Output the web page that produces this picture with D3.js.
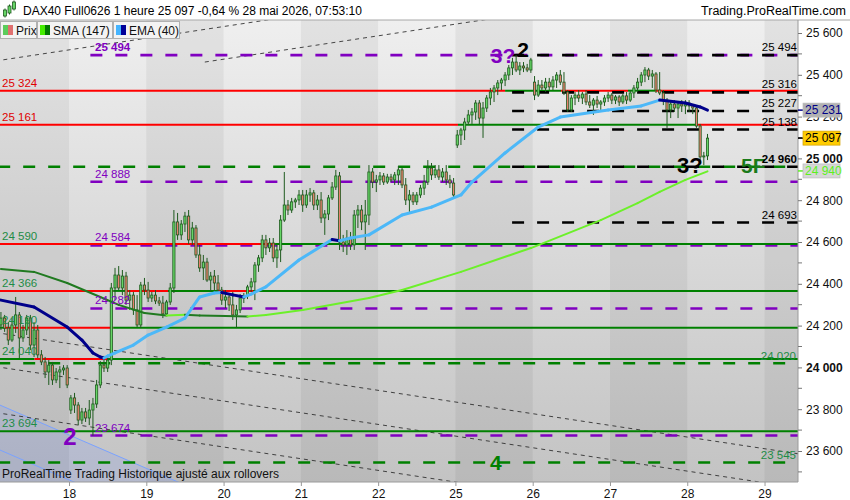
<!DOCTYPE html>
<html><head><meta charset="utf-8">
<script src="https://cdn.jsdelivr.net/npm/d3@7"></script>
<style>body{margin:0;background:#fff}svg{display:block;font-family:"Liberation Sans",Arial,sans-serif}</style>
</head><body><svg id="c" width="850" height="500"></svg>
<script>
// ---------- DATA ----------
const dayLabels = ["18","19","20","21","22","25","26","27","28","29"];
// hourly candles [open, high, low, close], one array per session
const d17 = [[24203,24265,24179,24236],[24236,24251,24170,24188],[24188,24217,24107,24131],[24131,24236,24122,24203],[24203,24337,24165,24251],[24251,24265,24045,24141],[24141,24203,24122,24179],[24179,24251,24155,24236],[24236,24251,24083,24107],[24107,24217,24050,24179],[24179,24203,24045,24060],[24060,24083,24011,24026],[24026,24050,23949,23978],[23978,24035,23916,24011],[24011,24026,23916,23940],[23940,23997,23925,23978],[23978,24006,23901,23988],[23988,24011,23964,23997],[23997,24011,23901,23916]];
const d18 = [[23796,23868,23777,23854],[23854,23878,23782,23820],[23820,23834,23724,23748],[23748,23806,23729,23787],[23787,23806,23739,23758],[23758,23844,23724,23796],[23796,23854,23674,23825],[23825,23940,23806,23916],[23916,24030,23901,24011],[24011,24055,23978,23997],[23997,24060,23978,24035],[24035,24404,24011,24380],[24380,24476,24322,24442],[24442,24485,24370,24380],[24380,24466,24346,24437],[24437,24457,24299,24322],[24322,24370,24275,24346],[24346,24361,24251,24275],[24275,24346,24193,24203],[24203,24409,24189,24394],[24394,24428,24346,24370]];
const d19 = [[24370,24409,24313,24332],[24332,24361,24313,24346],[24346,24370,24303,24318],[24318,24337,24294,24308],[24308,24342,24236,24256],[24256,24323,24246,24313],[24313,24404,24299,24380],[24380,24753,24356,24696],[24696,24739,24610,24634],[24634,24705,24610,24686],[24686,24744,24648,24724],[24724,24753,24590,24610],[24610,24696,24586,24667],[24667,24681,24524,24538],[24538,24586,24457,24476],[24476,24538,24418,24504],[24504,24524,24409,24418],[24418,24457,24361,24437],[24437,24466,24361,24404],[24404,24442,24361,24370],[24370,24385,24299,24322]];
const d20 = [[24322,24370,24284,24337],[24337,24351,24270,24299],[24299,24361,24227,24251],[24251,24299,24189,24275],[24275,24351,24260,24332],[24332,24356,24308,24342],[24342,24395,24327,24385],[24385,24428,24361,24409],[24409,24504,24322,24490],[24490,24538,24457,24524],[24524,24634,24504,24610],[24610,24634,24538,24572],[24572,24619,24552,24595],[24595,24619,24504,24524],[24524,24586,24476,24562],[24562,24729,24504,24705],[24705,24935,24696,24777],[24777,24801,24729,24753],[24753,24811,24739,24792],[24792,24811,24763,24801],[24801,24849,24777,24825]];
const d21 = [[24825,24849,24744,24777],[24777,24849,24763,24825],[24825,24858,24792,24835],[24835,24849,24753,24777],[24777,24825,24753,24801],[24801,24839,24691,24715],[24715,24753,24634,24734],[24734,24825,24705,24811],[24811,24887,24801,24863],[24863,24945,24849,24916],[24916,24935,24562,24600],[24600,24634,24552,24586],[24586,24657,24538,24619],[24619,24648,24562,24586],[24586,24753,24562,24729],[24729,24777,24667,24753],[24753,24777,24657,24696],[24696,24801,24562,24729],[24729,24968,24681,24935],[24935,24954,24858,24887],[24887,24921,24839,24897]];
const d22 = [[24897,24935,24873,24916],[24916,24930,24873,24887],[24887,24926,24878,24911],[24911,24926,24887,24897],[24897,24935,24873,24921],[24921,24964,24873,24945],[24945,24954,24858,24873],[24873,24906,24777,24801],[24801,24849,24744,24825],[24825,24839,24777,24792],[24792,24839,24777,24825],[24825,24873,24811,24858],[24858,24921,24825,24887],[24887,24992,24873,24954],[24954,24978,24897,24921],[24921,24968,24906,24945],[24945,24968,24897,24911],[24911,24954,24887,24935],[24935,24968,24873,24897],[24897,24921,24858,24882],[24882,24906,24810,24825]];
const d25 = [[25064,25136,25050,25112],[25112,25146,25064,25136],[25136,25194,25088,25174],[25174,25232,25160,25208],[25208,25241,25165,25222],[25222,25279,25184,25265],[25265,25279,25160,25193],[25193,25270,25098,25241],[25241,25303,25222,25289],[25289,25337,25255,25318],[25318,25351,25270,25337],[25337,25375,25303,25361],[25361,25385,25327,25375],[25375,25413,25346,25399],[25399,25447,25375,25433],[25433,25481,25399,25461],[25461,25494,25413,25423],[25423,25461,25399,25442],[25442,25461,25413,25433],[25433,25452,25413,25423],[25423,25481,25409,25471]];
const d26 = [[25365,25394,25279,25303],[25303,25375,25294,25351],[25351,25375,25327,25337],[25337,25385,25318,25365],[25365,25385,25327,25342],[25342,25394,25327,25375],[25375,25413,25337,25399],[25399,25423,25351,25365],[25365,25413,25303,25318],[25318,25327,25222,25232],[25232,25303,25222,25289],[25289,25318,25255,25303],[25303,25327,25270,25289],[25289,25318,25260,25308],[25308,25327,25255,25270],[25270,25303,25241,25255],[25255,25289,25208,25279],[25279,25299,25241,25260],[25260,25279,25232,25270],[25270,25303,25251,25289],[25289,25318,25270,25303]];
const d27 = [[25303,25313,25260,25279],[25279,25303,25260,25294],[25294,25303,25251,25270],[25270,25308,25260,25299],[25299,25318,25260,25279],[25279,25327,25270,25313],[25313,25351,25289,25337],[25337,25385,25318,25365],[25365,25413,25346,25399],[25399,25437,25365,25423],[25423,25433,25375,25394],[25394,25423,25337,25404],[25404,25413,25313,25327],[25327,25413,25303,25313],[25313,25327,25255,25279],[25279,25289,25146,25232],[25232,25279,25193,25260],[25260,25279,25222,25241],[25241,25270,25193,25260],[25260,25279,25222,25251],[25251,25279,25212,25265]];
const d28 = [[25265,25279,25222,25251],[25251,25260,25212,25241],[25241,25251,25146,25155],[25155,25165,24978,25007],[25007,25031,24968,25012],[25012,25117,24992,25097]];
const sessionLength = 21;

// moving averages, [bar index, value]
const sma147 = [[0,24471],[9,24457],[18,24404],[27,24337],[32,24299],[39,24260],[45,24248],[50,24252],[54,24248],[61,24246],[67,24243],[72,24251],[82,24275],[100,24332],[109,24370],[125,24457],[144,24571],[163,24705],[173,24786],[179,24840],[186,24897],[192,24938]];
const ema40 = [[0,24322],[9,24289],[18,24193],[22,24131],[25,24069],[27,24050],[28,24045],[29,24054],[31,24069],[36,24107],[40,24155],[45,24193],[50,24236],[54,24337],[58,24356],[60,24358],[63,24347],[66,24337],[68,24351],[72,24385],[81,24514],[90,24612],[92,24606],[95,24619],[100,24634],[109,24729],[117,24767],[125,24825],[128,24887],[137,25026],[146,25150],[152,25198],[165,25232],[174,25251],[179,25279],[186,25265],[190,25246],[192,25231]];

// price levels
const purpleLevels = [25494, 24888, 24584, 24282, 23674];
const blackLevels = [25494, 25316, 25227, 25138, 24960, 24693];
const greenDashLevels = [24960, 24020, 23545];
const redLeftLabels = [25324, 25161];
const greenLeftLabels = [24590, 24366, 24190, 24040, 23694];
const greenRightLabels = [24020, 23545];
// solid level segments: [price, from bar, to bar, kind]
const levelSegments = [
  [25324,-2,137.5,"r"],[25324,137.5,152.7,"g"],[25324,152.7,170.9,"r"],[25324,170.9,178.3,"g"],[25324,178.3,230,"r"],
  [25161,-2,124.7,"r"],[25161,124.7,189.9,"g"],[25161,189.9,230,"r"],
  [24590,-2,75,"r"],[24590,75,230,"g"],
  [24366,-2,31,"r"],[24366,31,34.3,"g"],[24366,34.3,45.9,"r"],[24366,45.9,59.5,"g"],[24366,59.5,69,"r"],[24366,69,230,"g"],
  [24190,-2,1.6,"g"],[24190,1.6,31,"r"],[24190,31,230,"g"],
  [24040,-2,9.6,"g"],[24040,9.6,29.6,"r"],[24040,29.6,230,"g"],
  [23694,-2,230,"g"]
];
// trend lines [[bar, price],[bar, price]]
const upTrends = [[[-1,25466],[90,25708]], [[55.9,25461],[140,25685]]];
const downTrends = [[[-1,24167],[220,23579]], [[-1,24004],[220,23416]], [[-1,23784],[220,23196]]];
const blueChannel = [[[-1,23829],[60,23365]], [[-1,23614],[60,23150]]];
const tagValues = [25231, 25097, 24940]; // EMA, price, SMA
const yTicks = d3.range(23600, 25601, 200);
const yMinor = d3.range(23500, 25601, 100);

// ---------- CHART ----------
const sessions = [d17,d18,d19,d20,d21,d22,d25,d26,d27,d28];
const bars = sessions.flat();
const starts = [0]; sessions.forEach(s => starts.push(starts[starts.length-1] + s.length));
const dayStarts = starts.slice(1, 10).concat([starts[9] + sessionLength]); // 18..29
const PL=0, PR=798, PT=20, PB=482;
const x = d3.scaleLinear().domain([0, 208]).range([-0.9, 764.54]);
const cx = i => x(i + 0.5);
const y = d3.scaleLinear().domain([23600, 25600]).range([451, 33]);
const fmt = v => String(v).replace(/\B(?=(\d{3})+(?!\d))/g, " ");

const svg = d3.select("#c");
const defs = svg.append("defs");
const grad = defs.append("linearGradient").attr("id","bg").attr("x1",0).attr("y1",0).attr("x2",0).attr("y2",1);
grad.append("stop").attr("offset","0%").attr("stop-color","#efefef");
grad.append("stop").attr("offset","100%").attr("stop-color","#c3c3c3");
defs.append("clipPath").attr("id","plot").append("rect").attr("x",PL).attr("y",PT).attr("width",PR-PL).attr("height",PB-PT);

svg.append("rect").attr("width",850).attr("height",500).attr("fill","#fff");
const g = svg.append("g").attr("clip-path","url(#plot)");
g.append("rect").attr("x",PL).attr("y",PT).attr("width",PR-PL).attr("height",PB-PT).attr("fill","url(#bg)");

// alternating day bands (17 dark, 18 light, ...)
const bandEdges = [-5].concat(dayStarts, [dayStarts[dayStarts.length-1] + sessionLength]);
for (let k = 0; k < bandEdges.length-1; k++) {
  if (k % 2 === 0) g.append("rect").attr("x",x(bandEdges[k])).attr("y",PT).attr("width",x(bandEdges[k+1])-x(bandEdges[k])).attr("height",PB-PT).attr("fill","rgba(0,0,0,0.05)");
}

// blue channel
const bl = blueChannel[0];
g.append("path").attr("d", d3.line()([[x(bl[0][0]),y(bl[0][1])],[x(bl[1][0]),y(bl[1][1])],[x(bl[0][0]),PB+50]])).attr("fill","rgba(110,140,255,0.17)");
blueChannel.forEach(l => g.append("line").attr("x1",x(l[0][0])).attr("y1",y(l[0][1])).attr("x2",x(l[1][0])).attr("y2",y(l[1][1])).attr("stroke","#7aa2ff").attr("stroke-width",1));

// thin dashed trend lines
upTrends.concat(downTrends).forEach(l => g.append("line").attr("x1",x(l[0][0])).attr("y1",y(l[0][1])).attr("x2",x(l[1][0])).attr("y2",y(l[1][1])).attr("stroke","#2a2a2a").attr("stroke-width",1).attr("stroke-dasharray","4,4").attr("opacity",0.85));

function hline(p, b0, b1, color, dash) {
  g.append("line").attr("x1",x(b0)).attr("x2",x(b1)).attr("y1",y(p)).attr("y2",y(p))
    .attr("stroke",color).attr("stroke-width", dash ? 2.6 : 2).attr("stroke-dasharray", dash || null);
}
const PURPLE = "#8000c0", RED = "#ff0000", GREEN = "#008000";
greenDashLevels.forEach(p => hline(p, -0.25, 230, GREEN, "12,13"));
purpleLevels.forEach(p => hline(p, 24.8, 230, PURPLE, "12,13"));
levelSegments.forEach(s => hline(s[0], s[1], s[2], s[3] === "r" ? RED : GREEN));
blackLevels.forEach(p => hline(p, 139.4, 230, "#000", "12,13"));

// candles
const cg = g.append("g");
bars.forEach((b, i) => {
  const [o,h,l,c] = b, xc = cx(i), up = c >= o;
  cg.append("line").attr("x1",xc).attr("x2",xc).attr("y1",y(h)).attr("y2",y(l)).attr("stroke","#1e5a1e").attr("stroke-width",1);
  const top = y(Math.max(o,c)), hgt = Math.max(1, Math.abs(y(o)-y(c)));
  cg.append("rect").attr("x",xc-1.1).attr("y",top).attr("width",2.2).attr("height",hgt)
    .attr("fill", up ? "#66d666" : "#e8806e").attr("stroke","#1e5a1e").attr("stroke-width",0.8);
});

// moving averages, coloured by slope
function ma(data, upCol, downCol, w) {
  const line = d3.line().x(d => cx(d[0])).y(d => y(d[1]));
  for (let k = 0; k < data.length-1; k++) {
    const a = data[k], b = data[k+1];
    g.append("path").attr("d", line([a,b])).attr("fill","none").attr("stroke", b[1] >= a[1] ? upCol : downCol)
      .attr("stroke-width", w).attr("stroke-linecap","round");
  }
}
ma(sma147, "#6cf02a", "#207a20", 2);
ma(ema40, "#4cb8f8", "#00008a", 3);

// level labels
const lab = (t, xx, yy, col, anchor, weight, size) => svg.append("text").attr("x",xx).attr("y",yy).text(t)
  .attr("fill",col).attr("font-size",size||11.5).attr("text-anchor",anchor||"start").attr("font-weight",weight||"normal");
redLeftLabels.forEach(p => lab(fmt(p), 2, y(p)-4, "#e00000"));
greenLeftLabels.forEach(p => lab(fmt(p), 2, y(p)-4, "#1e8c46"));
purpleLevels.forEach(p => lab(fmt(p), x(25)+4, y(p)-4, PURPLE, "start", p === 25494 ? "bold" : "normal"));

// wave annotations
lab("3?", x(133.6), y(25457), PURPLE, "start", "bold", 21);
lab("2", x(140.8), y(25486), "#000", "start", "bold", 21);
lab("3?", x(184.2), y(24930), "#000", "start", "bold", 22);
lab("5F", x(201.6), y(24930), "#1a7a1a", "start", "bold", 21);
lab("4", x(133.4), y(23510), GREEN, "start", "bold", 21);
lab("2", x(17.4), y(23629), PURPLE, "start", "bold", 24);

// right-hand level labels (drawn over the annotations)
blackLevels.forEach(p => lab(fmt(p), 797, y(p)-4, "#000", "end", p === 24960 ? "bold" : "normal"));
greenRightLabels.forEach(p => lab(fmt(p), 796, y(p)-3.5, "#1e8c46", "end"));

lab("ProRealTime Trading  Historique ajusté aux rollovers", 2, 478, "#111", "start", "normal", 12);

// frame & axes
svg.append("line").attr("x1",0).attr("x2",850).attr("y1",PT).attr("y2",PT).attr("stroke","#a8a8a8");
const xa = svg.append("g").attr("transform",`translate(0,${PB})`)
  .call(d3.axisBottom(x).tickValues(dayStarts).tickFormat((d,i) => dayLabels[i]).tickSize(4).tickSizeOuter(0).tickPadding(3));
xa.select(".domain").attr("d", `M${PL},0H${PR}`).attr("stroke","#9a9a9a");
xa.selectAll("line").attr("stroke","#9a9a9a");
xa.selectAll("text").attr("font-size",12).attr("fill","#111").attr("font-family","Liberation Sans, Arial, sans-serif");

const ya = svg.append("g").attr("transform",`translate(${PR},0)`)
  .call(d3.axisRight(y).tickValues(yTicks).tickFormat(fmt).tickSize(4).tickSizeOuter(0).tickPadding(4));
ya.select(".domain").attr("d", `M0,${PT}V${PB}`).attr("stroke","#9a9a9a");
ya.selectAll("line").attr("stroke","#777");
ya.selectAll("text").attr("font-size",12).attr("fill","#111").attr("font-family","Liberation Sans, Arial, sans-serif")
  .attr("font-weight", d => d % 1000 === 0 ? "bold" : "normal");
yMinor.filter(v => !yTicks.includes(v)).forEach(v => svg.append("line").attr("x1",PR).attr("x2",PR+4).attr("y1",y(v)).attr("y2",y(v)).attr("stroke","#777"));

// value tags
const tagStyle = [["#000088","#b2b2b2"],["#000","#ffcc00"],["#5cf020","#d6d6d6"]];
tagValues.forEach((v, i) => {
  const yy = y(v);
  svg.append("line").attr("x1",PR).attr("x2",PR+5).attr("y1",yy).attr("y2",yy).attr("stroke",tagStyle[i][0]).attr("stroke-width",1.5);
  svg.append("rect").attr("x",803).attr("y",yy-7).attr("width",37).attr("height",14).attr("fill",tagStyle[i][1]).attr("stroke", i===1 ? "#d0a000" : "#bbb").attr("stroke-width",0.7);
  svg.append("text").attr("x",805).attr("y",yy+4.3).text(fmt(v)).attr("font-size",12).attr("fill",tagStyle[i][0]);
});

// header
svg.append("text").attr("x",23).attr("y",15).text("DAX40 Full0626 1 heure 25 097 -0,64 % 28 mai 2026, 07:53:10").attr("font-size",12).attr("fill","#000");
svg.append("text").attr("x",846).attr("y",15).text("Trading.ProRealTime.com").attr("font-size",12.5).attr("fill","#000").attr("text-anchor","end");
[[5,10,16],[9.5,6,13],[14,2,9]].forEach(c => {
  svg.append("line").attr("x1",c[0]).attr("x2",c[0]).attr("y1",c[1]-1.5).attr("y2",c[2]+1.5).attr("stroke","#1e5a1e");
  svg.append("rect").attr("x",c[0]-1.5).attr("y",c[1]).attr("width",3).attr("height",c[2]-c[1]).attr("fill","#66d666").attr("stroke","#1e5a1e").attr("stroke-width",0.8);
});

// legend
const legend = [["Prix","#5ccc5c","#e07070",0,37],["SMA (147)","#44ee00","#007a00",37,113],["EMA (40)","#44b4ff","#000099",113,180]];
legend.forEach(l => {
  svg.append("rect").attr("x",l[3]+0.5).attr("y",21.5).attr("width",l[4]-l[3]-1).attr("height",17).attr("fill","#f3f3f3").attr("stroke","#b0b0b0");
  svg.append("rect").attr("x",l[3]+3).attr("y",25).attr("width",5).attr("height",10).attr("fill",l[1]);
  svg.append("rect").attr("x",l[3]+8).attr("y",25).attr("width",5).attr("height",10).attr("fill",l[2]);
  svg.append("text").attr("x",l[3]+16).attr("y",35).text(l[0]).attr("font-size",12).attr("fill","#111");
});
</script></body></html>
